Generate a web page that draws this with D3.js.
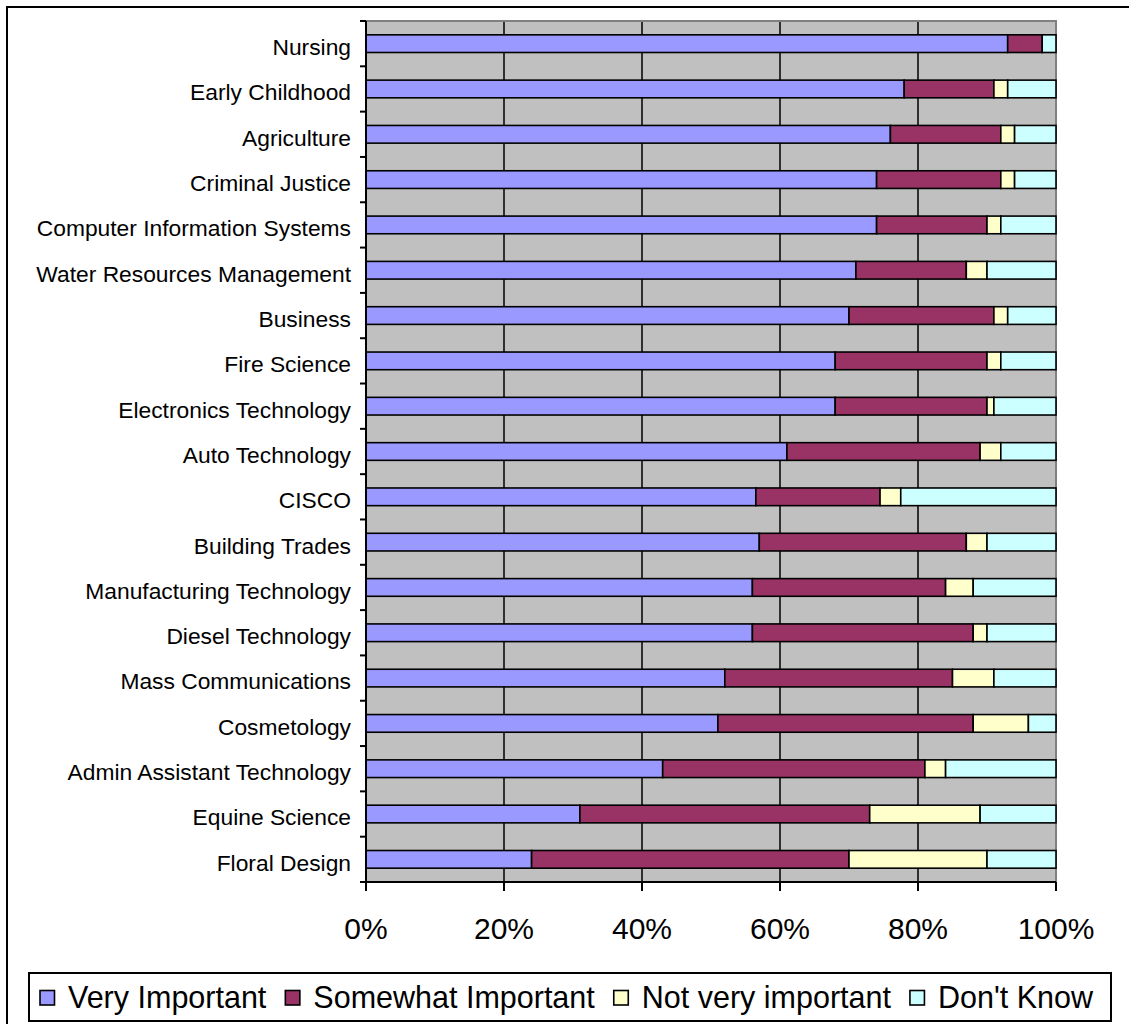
<!DOCTYPE html>
<html><head><meta charset="utf-8">
<script src="https://cdn.jsdelivr.net/npm/d3@7"></script>
<style>html,body{margin:0;padding:0;background:#fff;}svg{display:block;}</style>
</head><body>
<script>
const categories = ["Nursing","Early Childhood","Agriculture","Criminal Justice","Computer Information Systems","Water Resources Management","Business","Fire Science","Electronics Technology","Auto Technology","CISCO","Building Trades","Manufacturing Technology","Diesel Technology","Mass Communications","Cosmetology","Admin Assistant Technology","Equine Science","Floral Design"];
const seriesNames = ["Very Important","Somewhat Important","Not very important","Don't Know"];
const veryImportant = [93,78,76,74,74,71,70,68,68,61,56.5,57,56,56,52,51,43,31,24];
const somewhatImportant = [5,13,16,18,16,16,21,22,22,28,18,30,28,32,33,37,38,42,46];
const notVeryImportant = [0,2,2,2,2,3,2,2,1,3,3,3,4,2,6,8,3,16,20];
const dontKnow = [2,7,6,6,8,10,7,8,9,8,22.5,10,12,10,9,4,16,11,10];
const tickValues = [0,20,40,60,80,100];
const colors = ["#9999FF","#993366","#FFFFCC","#CCFFFF"];

(function(){
const W = 1129, H = 1024;
const pLeft = 366, pRight = 1056, pTop = 21, pBottom = 882;
const svg = d3.select("body").append("svg").attr("width", W).attr("height", H);
const font = "'Liberation Sans', Arial, sans-serif";

// outer frame
svg.append("rect").attr("x",7).attr("y",7).attr("width",1140).attr("height",1040)
  .attr("fill","#fff").attr("stroke","#000").attr("stroke-width",2);

const x = d3.scaleLinear().domain([0,100]).range([pLeft,pRight]);
const y = d3.scaleBand().domain(categories).range([pTop,pBottom]).paddingInner(0.61).paddingOuter(0.305);

// plot background
svg.append("rect").attr("x",pLeft).attr("y",pTop).attr("width",pRight-pLeft).attr("height",pBottom-pTop).attr("fill","#C0C0C0");

// gridlines
svg.append("g").selectAll("line").data(tickValues.filter(v=>v>0 && v<100)).join("line")
  .attr("x1",d=>x(d)).attr("x2",d=>x(d)).attr("y1",pTop).attr("y2",pBottom)
  .attr("stroke","#000").attr("stroke-width",1.5);

// plot border top/right
svg.append("path").attr("d",`M${pLeft},${pTop}H${pRight}V${pBottom}`).attr("fill","none").attr("stroke","#808080").attr("stroke-width",2);

// data
const rows = categories.map((c,i)=>({cat:c, "Very Important":veryImportant[i], "Somewhat Important":somewhatImportant[i], "Not very important":notVeryImportant[i], "Don't Know":dontKnow[i]}));
const stacked = d3.stack().keys(seriesNames)(rows);
svg.append("g").selectAll("g").data(stacked).join("g").attr("fill",(d,i)=>colors[i])
  .selectAll("rect").data(d=>d.filter(s=>s[1]-s[0]>0)).join("rect")
  .attr("x",d=>x(d[0])).attr("width",d=>x(d[1])-x(d[0]))
  .attr("y",d=>y(d.data.cat)).attr("height",y.bandwidth())
  .attr("stroke","#000").attr("stroke-width",1.6);

// y axis
const step = y.step();
const boundaries = d3.range(categories.length+1).map(i=>pTop + i*step);
svg.append("g").selectAll("line").data(boundaries).join("line")
  .attr("x1",pLeft-6).attr("x2",pLeft).attr("y1",d=>d).attr("y2",d=>d).attr("stroke","#000").attr("stroke-width",2);
svg.append("line").attr("x1",pLeft).attr("x2",pLeft).attr("y1",pTop).attr("y2",pBottom).attr("stroke","#000").attr("stroke-width",2);
svg.append("g").selectAll("text").data(categories).join("text")
  .attr("x",351).attr("y",d=>y(d)+y.bandwidth()/2).attr("dy","0.5em")
  .attr("text-anchor","end").attr("font-family",font).attr("font-size",22.8).attr("fill","#000")
  .text(d=>d);

// x axis
svg.append("line").attr("x1",pLeft-6).attr("x2",pRight).attr("y1",pBottom).attr("y2",pBottom).attr("stroke","#000").attr("stroke-width",2);
svg.append("g").selectAll("line").data(tickValues).join("line")
  .attr("x1",d=>x(d)).attr("x2",d=>x(d)).attr("y1",pBottom).attr("y2",pBottom+9).attr("stroke","#000").attr("stroke-width",2);
svg.append("g").selectAll("text").data(tickValues).join("text")
  .attr("x",d=>x(d)).attr("y",pBottom+57).attr("text-anchor","middle")
  .attr("font-family",font).attr("font-size",30).attr("fill","#000").text(d=>d+"%");

// legend
const lg = svg.append("g");
lg.append("rect").attr("x",29).attr("y",973).attr("width",1082).attr("height",48).attr("fill","#fff").attr("stroke","#000").attr("stroke-width",2);
let cx = 40;
seriesNames.forEach((s,i)=>{
  lg.append("rect").attr("x",cx).attr("y",990.5).attr("width",14.5).attr("height",14.5).attr("fill",colors[i]).attr("stroke","#000").attr("stroke-width",1.6);
  const t = lg.append("text").attr("x",cx+28).attr("y",1008).attr("font-family",font).attr("font-size",30.5).attr("fill","#000").text(s);
  cx = cx + 28 + t.node().getComputedTextLength() + 19;
});
})();
</script>
</body></html>
